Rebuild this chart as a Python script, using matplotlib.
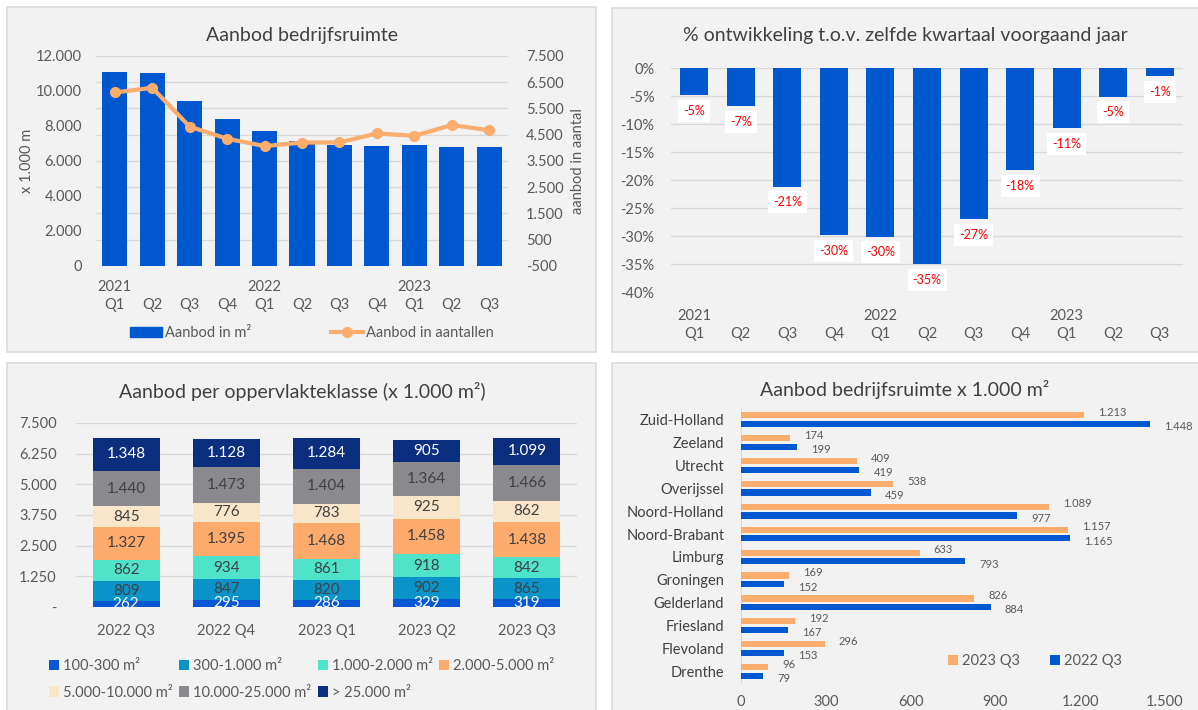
import matplotlib
matplotlib.use("Agg")
from matplotlib import pyplot as plt
from matplotlib.patches import Rectangle, Patch
from matplotlib.lines import Line2D
from matplotlib.ticker import FuncFormatter
import numpy as np

plt.rcParams['font.family'] = ['Lato', 'DejaVu Sans']

# --- data ---
quarters = ["2021\nQ1", "\nQ2", "\nQ3", "\nQ4", "2022\nQ1", "\nQ2", "\nQ3", "\nQ4",
            "2023\nQ1", "\nQ2", "\nQ3"]
aanbod_m2 = [11080, 11030, 9450, 8390, 7740, 7150, 6910, 6870, 6910, 6810, 6810]
aanbod_aantal = [6110, 6290, 4810, 4350, 4070, 4200, 4210, 4550, 4460, 4870, 4670]

pct_change = [-4.8, -6.8, -21.2, -29.8, -30.1, -35.0, -27.0, -18.2, -10.7, -5.1, -1.4]

klasse_periods = ["2022 Q3", "2022 Q4", "2023 Q1", "2023 Q2", "2023 Q3"]
klasse_names = ["100-300 m²", "300-1.000 m²", "1.000-2.000 m²", "2.000-5.000 m²",
                "5.000-10.000 m²", "10.000-25.000 m²", "> 25.000 m²"]
k_100_300 = [262, 295, 286, 329, 319]
k_300_1000 = [809, 847, 820, 902, 865]
k_1000_2000 = [862, 934, 861, 918, 842]
k_2000_5000 = [1327, 1395, 1468, 1458, 1438]
k_5000_10000 = [845, 776, 783, 925, 862]
k_10000_25000 = [1440, 1473, 1404, 1364, 1466]
k_25000_plus = [1348, 1128, 1284, 905, 1099]

provincies = ["Zuid-Holland", "Zeeland", "Utrecht", "Overijssel", "Noord-Holland",
              "Noord-Brabant", "Limburg", "Groningen", "Gelderland", "Friesland",
              "Flevoland", "Drenthe"]
prov_2023q3 = [1213, 174, 409, 538, 1089, 1157, 633, 169, 826, 192, 296, 96]
prov_2022q3 = [1448, 199, 419, 459, 977, 1165, 793, 152, 884, 167, 153, 79]

# --- style ---
BLUE = '#0058d0'
ORANGE = '#fbad6e'
klasse_colors = ['#0a57d6', '#0a93c8', '#4fe3c9', '#fdab6c', '#f9e6c8', '#8a8a8e', '#0b2f7e']
TXT = '#595959'
TITLE = '#404040'
GRID = '#d9d9d9'
W, H = 1198, 710
FS = 10.5
TFS = 14


def nl(v, pos=None):
    return f"{int(round(v)):,}".replace(",", ".")


def axes_px(fig, x0, y0, x1, y1):
    return fig.add_axes([x0 / W, 1 - y1 / H, (x1 - x0) / W, (y1 - y0) / H])


def clean(ax):
    ax.set_facecolor('none')
    for s in ax.spines.values():
        s.set_visible(False)
    ax.tick_params(length=0, colors=TXT, labelsize=FS)


fig = plt.figure(figsize=(W / 100, H / 100), dpi=100)

# panel backgrounds
for (x0, y0, x1, y1) in [(7, 7, 596, 352), (612, 8, 1210, 352),
                         (7, 363, 596, 720), (612, 363, 1210, 720)]:
    fig.patches.append(Rectangle((x0 / W, 1 - y1 / H), (x1 - x0) / W, (y1 - y0) / H,
                                 transform=fig.transFigure, facecolor='#f2f2f2',
                                 edgecolor='#dcdcdc', linewidth=1.2, zorder=-10))

# ---------- panel 1 ----------
x = np.arange(len(quarters))
ax1 = axes_px(fig, 96, 56, 508, 266)
clean(ax1)
ax1.bar(x, aanbod_m2, width=0.67, color=BLUE, zorder=3)
ax1.set_ylim(0, 12000)
ax1.set_yticks(range(0, 12001, 2000))
ax1.yaxis.set_major_formatter(FuncFormatter(nl))
ax1.set_xlim(-0.5, len(quarters) - 0.5)
ax1.set_xticks(x)
ax1.set_xticklabels(quarters, linespacing=1.4)
ax1.tick_params(axis='x', pad=10)
ax1.tick_params(axis='y', pad=10)
ax1.set_ylabel("x 1.000 m", color=TXT, fontsize=FS)
ax1.yaxis.set_label_coords((34 - 96) / 412, 0.5)

ax1b = ax1.twinx()
clean(ax1b)
ax1b.set_ylim(-500, 7500)
ax1b.set_yticks(range(-500, 7501, 1000))
ax1b.yaxis.set_major_formatter(FuncFormatter(nl))
ax1b.grid(axis='y', color=GRID, linewidth=0.9)
ax1b.tick_params(axis='y', which='both', pad=13)
ax1b.set_ylabel("aanbod in aantal", color=TXT, fontsize=FS)
ax1b.yaxis.set_label_coords((571 - 96) / 412, 0.5)
ax1b.set_zorder(0)
ax1.set_zorder(1)
ax1.patch.set_visible(False)
# line drawn above the bars
ax1c = ax1.twinx()
clean(ax1c)
ax1c.set_ylim(-500, 7500)
ax1c.set_yticks([])
ax1c.plot(x, aanbod_aantal, color=ORANGE, linewidth=3, marker='o', markersize=7)
ax1c.set_zorder(2)

fig.text(302 / W, 1 - 35 / H, "Aanbod bedrijfsruimte", ha='center', va='center',
         fontsize=TFS, color=TITLE)
ax1c.legend([Patch(color=BLUE), Line2D([0], [0], color=ORANGE, lw=3, marker='o', markersize=7)],
            ["Aanbod in m²", "Aanbod in aantallen"], loc='center',
            bbox_to_anchor=(312 / W, 1 - 333 / H), bbox_transform=fig.transFigure,
            ncol=2, frameon=False, fontsize=FS, handlelength=2.2, columnspacing=5.5,
            handletextpad=0.2, labelcolor=TXT)

# ---------- panel 2 ----------
ax2 = axes_px(fig, 671, 68, 1183, 292)
clean(ax2)
ax2.bar(x, pct_change, width=0.6, color=BLUE, zorder=3)
ax2.set_ylim(-40, 0)
ax2.set_yticks(range(-40, 1, 5))
ax2.yaxis.set_major_formatter(FuncFormatter(lambda v, p: f"{int(v)}%"))
ax2.grid(axis='y', color=GRID, linewidth=0.9, zorder=0)
ax2.set_axisbelow(True)
ax2.set_xlim(-0.5, len(quarters) - 0.5)
ax2.set_xticks(x)
ax2.set_xticklabels(quarters, linespacing=1.4)
ax2.tick_params(axis='x', pad=12)
ax2.tick_params(axis='y', pad=12)
for xi, v in zip(x, pct_change):
    ax2.annotate(f"{int(round(v))}%", (xi, v), xytext=(0, -7), textcoords='offset points',
                 ha='center', va='top', fontsize=9, color='#ff0000', zorder=5,
                 bbox=dict(boxstyle='square,pad=0.4', facecolor='white', edgecolor='none'))
fig.text(905 / W, 1 - 35 / H, "% ontwikkeling t.o.v. zelfde kwartaal voorgaand jaar",
         ha='center', va='center', fontsize=TFS, color=TITLE)

# ---------- panel 3 ----------
ax3 = axes_px(fig, 76, 423, 577, 607)
clean(ax3)
xk = np.arange(len(klasse_periods))
series = [k_100_300, k_300_1000, k_1000_2000, k_2000_5000, k_5000_10000,
          k_10000_25000, k_25000_plus]
bottom = np.zeros(len(klasse_periods))
handles = []
for vals, col, name in zip(series, klasse_colors, klasse_names):
    b = ax3.bar(xk, vals, bottom=bottom, width=0.67, color=col, zorder=3)
    handles.append(b)
    tc = 'white' if col in ('#0a57d6', '#0b2f7e') else TITLE
    for xi, bo, v in zip(xk, bottom, vals):
        ax3.text(xi, bo + v / 2, nl(v), ha='center', va='center', fontsize=11,
                 color=tc, zorder=4, clip_on=True)
    bottom += np.array(vals)
ax3.set_ylim(0, 7500)
ax3.set_yticks(np.arange(0, 7501, 1250))
ax3.yaxis.set_major_formatter(FuncFormatter(lambda v, p: "-" if v == 0 else nl(v)))
ax3.grid(axis='y', color=GRID, linewidth=0.9, zorder=0)
ax3.set_axisbelow(True)
ax3.set_xlim(-0.5, len(klasse_periods) - 0.5)
ax3.set_xticks(xk)
ax3.set_xticklabels(klasse_periods)
ax3.tick_params(axis='x', pad=12)
ax3.tick_params(axis='y', pad=14)
order = [0, 4, 1, 5, 2, 6, 3]
ax3.legend([handles[i] for i in order], [klasse_names[i] for i in order], loc='upper left',
           bbox_to_anchor=(36 / W, 1 - 646 / H), bbox_transform=fig.transFigure,
           ncol=4, frameon=False, fontsize=10.5, handlelength=0.7, handleheight=0.7,
           handletextpad=0.25, columnspacing=0.45, labelspacing=0.85, labelcolor=TXT)
fig.text(302 / W, 1 - 391 / H, "Aanbod per oppervlakteklasse (x 1.000 m²)",
         ha='center', va='center', fontsize=TFS, color=TITLE)

# ---------- panel 4 ----------
ax4 = axes_px(fig, 741, 408, 1165, 683)
clean(ax4)
yp = np.arange(len(provincies))[::-1]
h1 = ax4.barh(yp + 0.19, prov_2023q3, height=0.27, color=ORANGE, zorder=3)
h2 = ax4.barh(yp - 0.19, prov_2022q3, height=0.27, color=BLUE, zorder=3)
for yi, v in zip(yp, prov_2023q3):
    ax4.annotate(nl(v), (v, yi + 0.19), xytext=(10, 2), textcoords='offset points',
                 ha='left', va='center', fontsize=8, color=TXT)
for yi, v in zip(yp, prov_2022q3):
    ax4.annotate(nl(v), (v, yi - 0.19), xytext=(10, -2), textcoords='offset points',
                 ha='left', va='center', fontsize=8, color=TXT)
ax4.set_xlim(0, 1500)
ax4.set_xticks(range(0, 1501, 300))
ax4.xaxis.set_major_formatter(FuncFormatter(nl))
ax4.set_ylim(-0.5, len(provincies) - 0.5)
ax4.set_yticks(yp)
ax4.set_yticklabels(provincies, color=TITLE)
ax4.spines['left'].set_visible(True)
ax4.spines['left'].set_color(GRID)
ax4.tick_params(axis='y', pad=12)
ax4.tick_params(axis='x', pad=9)
ax4.legend([h1, h2], ["2023 Q3", "2022 Q3"], loc='center',
           bbox_to_anchor=(1035 / W, 1 - 661 / H), bbox_transform=fig.transFigure,
           ncol=2, frameon=False, fontsize=FS, handlelength=0.7, handleheight=0.7,
           handletextpad=0.3, columnspacing=2.0, labelcolor=TXT)
fig.text(905 / W, 1 - 389 / H, "Aanbod bedrijfsruimte x 1.000 m²",
         ha='center', va='center', fontsize=TFS, color=TITLE)

fig.savefig("out.png", dpi=100, facecolor='white')
